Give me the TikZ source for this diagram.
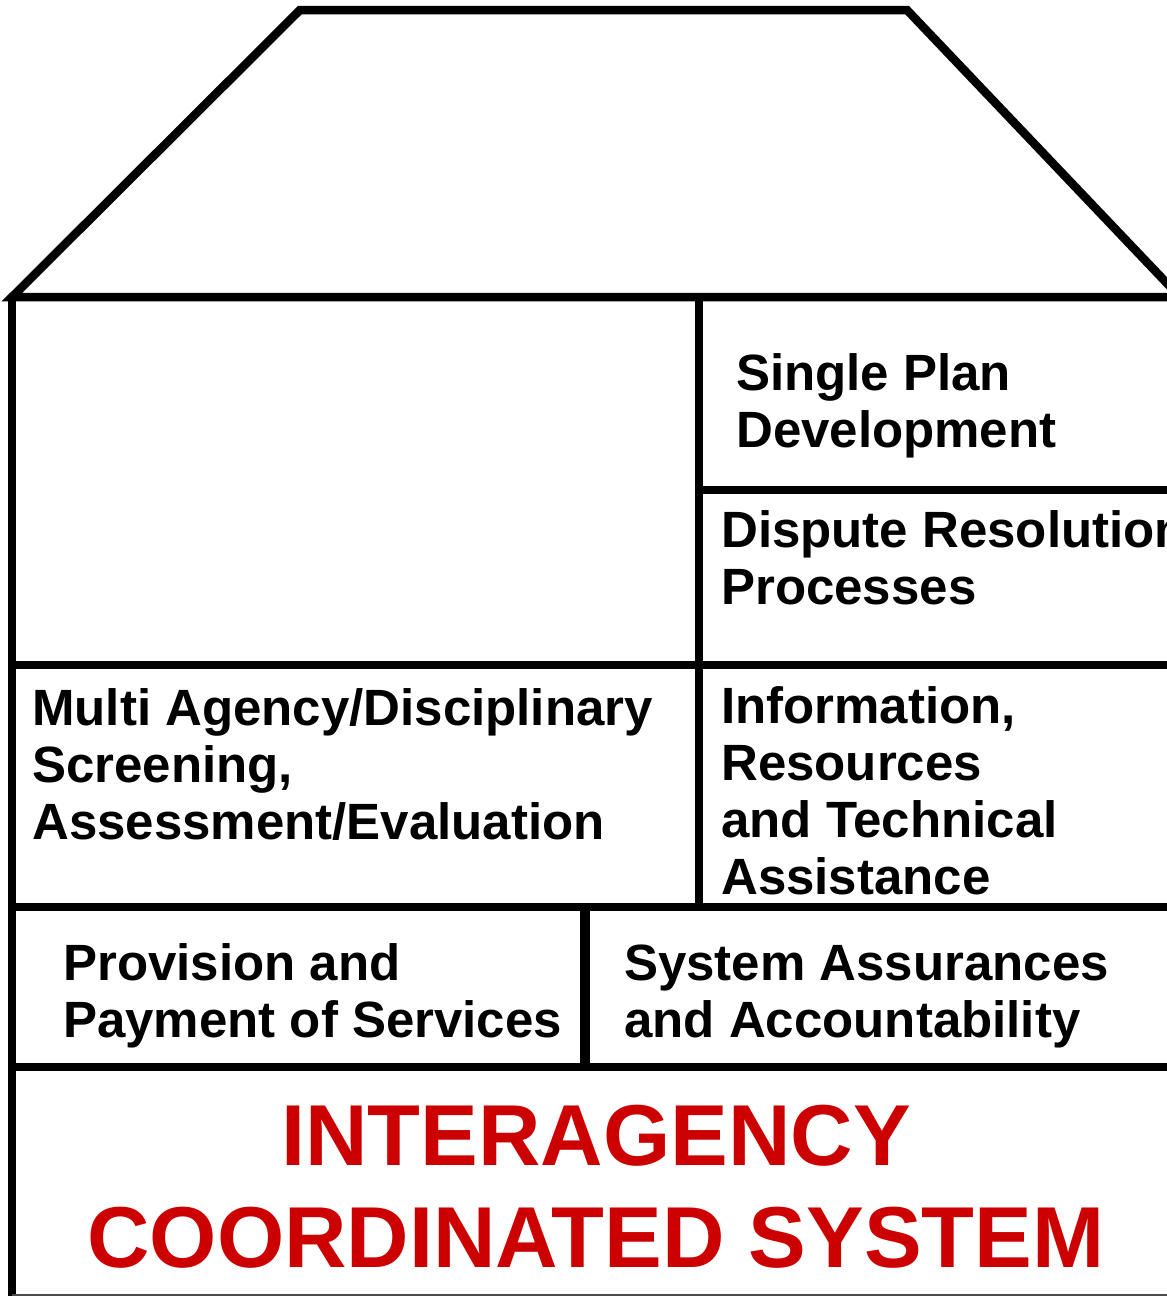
\documentclass[tikz,border=0pt]{standalone}
\usepackage{fontspec}
\setmainfont{Liberation Sans}
\definecolor{titlered}{HTML}{CC0000}
\begin{document}
\begin{tikzpicture}[x=1pt,y=-1pt,
  wall/.style={line width=8.5pt,draw=black},
  label/.style={anchor=base west,inner sep=0pt,align=left,font=\fontsize{51}{57}\selectfont\bfseries},
  title/.style={anchor=base,inner sep=0pt,align=center,text=titlered,font=\fontsize{86.5}{102}\selectfont\bfseries}]
\useasboundingbox (0,0) rectangle (1167,1296);
% roof
\draw[wall,line join=miter] (12,297) -- (300,10) -- (907,10) -- (1180,297) -- cycle;
% outer wall
\draw[wall] (12,297) -- (12,1300);
\draw[wall] (1180,297) -- (1180,1300);
% grid
\draw[wall] (699,297) -- (699,907);
\draw[wall] (695,490) -- (1180,490);
\draw[wall] (12,665) -- (1180,665);
\draw[wall] (12,907) -- (1180,907);
\draw[wall,line width=9.5pt] (585,907) -- (585,1067);
\draw[wall] (12,1067) -- (1180,1067);
\draw[line width=1.5pt,draw=black!70] (12,1295) -- (1180,1295);
% texts (base anchor = baseline of the last line)
\node[label] (plan) at (736,447) {Single Plan\\Development};
\node[label] (dispute) at (721,604) {Dispute Resolution\\Processes};
\node[label] (multi) at (32,839) {Multi Agency/Disciplinary\\Screening,\\Assessment/Evaluation};
\node[label] (info) at (721,894) {Information,\\Resources\\and Technical\\Assistance};
\node[label] (prov) at (63,1037) {Provision and\\Payment of Services};
\node[label] (assur) at (624,1037) {System Assurances\\and Accountability};
\node[title] (sys) at (596,1267) {INTERAGENCY\\COORDINATED SYSTEM};
\end{tikzpicture}
\end{document}
